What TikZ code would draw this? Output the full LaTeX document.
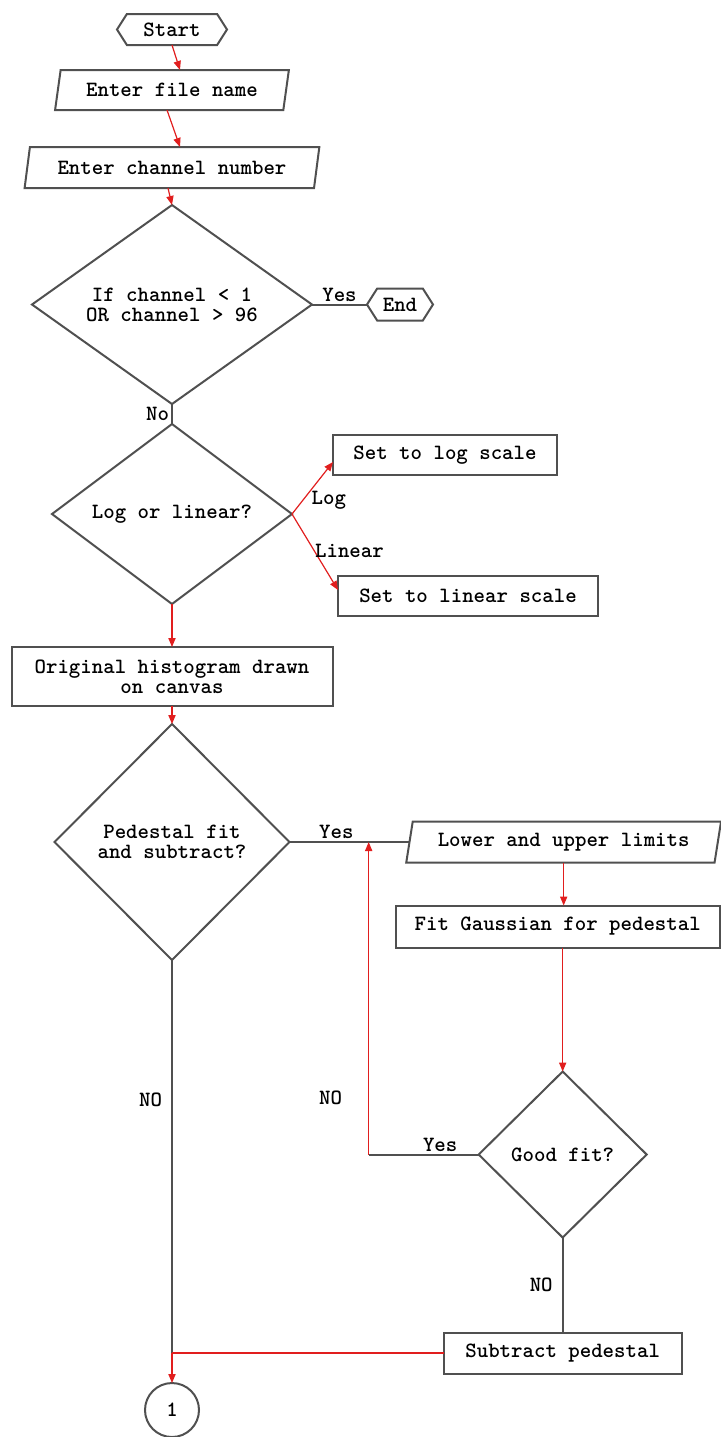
\documentclass[tikz,border=0pt]{standalone}
\usepackage{fontspec}
\usepackage{tikz}
\usepackage{xcolor}
\definecolor{LineGray}{RGB}{80,80,80}
\definecolor{FlowRed}{RGB}{225,30,30}
\usetikzlibrary{positioning,arrows.meta,shapes.geometric,shapes.symbols,calc}

\begin{document}
\begin{tikzpicture}[x=0.5pt, y=-0.5pt,
    base/.style={draw=LineGray, line width=1pt, inner sep=1pt, outer sep=0pt, align=center,
                 font=\ttfamily\bfseries\fontsize{10.9}{10}\selectfont},
    term/.style={base, signal, signal to=west and east, signal pointer angle=115},
    io/.style={base, trapezium, trapezium left angle=76, trapezium right angle=104,
               trapezium stretches=true},
    proc/.style={base, rectangle},
    test/.style={base, diamond, shape aspect=1.4, inner sep=0pt},
    conn/.style={base, circle, minimum size=27pt},
    lbl/.style={inner sep=1pt, font=\ttfamily\bfseries\fontsize{10.9}{10}\selectfont},
    link/.style={draw=LineGray, line width=1pt},
    flow/.style={draw=FlowRed, line width=0.6pt, -{Triangle[length=4.5pt, width=3.6pt]}}
]
    \useasboundingbox (0,0) rectangle (721,1437);

    % main column
    \node[term, minimum width=55pt, minimum height=15.5pt] (start) at (172,29.5) {Start};
    \node[io, below=12.5pt of start, minimum width=117.5pt, minimum height=20pt] (fname) {Enter file name};
    \node[io, below=18.5pt of fname, minimum width=147.5pt, minimum height=20.5pt] (chan) {Enter channel number};
    \node[test, below=8.5pt of chan, minimum width=140pt, minimum height=99.5pt] (check) {If channel < 1\\OR channel > 96};
    \node[term, right=27.5pt of check, minimum width=33pt, minimum height=16pt] (endn) {End};
    \node[test, below=10pt of check, minimum width=120pt, minimum height=90pt] (scale) {Log or linear?};
    \node[proc, minimum width=112pt, minimum height=20pt] (logbox) at (445,455) {Set to log scale};
    \node[proc, minimum width=130pt, minimum height=20pt] (linbox) at (468,596) {Set to linear scale};
    \node[proc, below=21.5pt of scale, minimum width=160.5pt, minimum height=29.5pt] (orig) {Original histogram drawn\\on canvas};
    \node[test, below=9pt of orig, minimum width=117.5pt, minimum height=118pt] (ped) {Pedestal fit\\and subtract?};

    % pedestal branch
    \node[io, right=60pt of ped, minimum width=157.5pt, minimum height=20.5pt] (limits) {Lower and upper limits};
    \node[proc, below=21.5pt of limits, xshift=-3pt, minimum width=162pt, minimum height=21pt] (fit) {Fit Gaussian for pedestal};
    \node[test, below=62pt of fit, xshift=2.5pt, minimum width=84pt, minimum height=83pt] (good) {Good fit?};
    \node[proc, below=47.5pt of good, minimum width=119pt, minimum height=20.5pt] (sub) {Subtract pedestal};
    \node[conn, below=211.5pt of ped] (off) {1};

    \coordinate (back) at ($(good.west)+(-110,0)$);
    \coordinate (join) at (ped.south |- sub.west);

    % connectors
    \draw[flow] (start.south) -- ([xshift=4pt]fname.north);
    \draw[flow] ([xshift=-2.5pt]fname.south) -- ([xshift=4pt]chan.north);
    \draw[flow] ([xshift=-2pt]chan.south) -- (check.north);
    \draw[link] (check.east) -- node[lbl, above] {Yes} (endn.west);
    \draw[link] (check.south) -- node[lbl, left] {No} (scale.north);
    \draw[flow] (scale.east) -- node[lbl, pos=0.27, right=3pt] {Log} ([yshift=-3.5pt]logbox.west);
    \draw[flow] (scale.east) -- node[lbl, pos=0.49, anchor=west, inner sep=0pt] {Linear} ([yshift=3pt]linbox.west);
    \draw[flow] (scale.south) -- (orig.north);
    \draw[flow] (orig.south) -- (ped.north);
    \draw[link] (ped.east) -- node[lbl, pos=0.39, above] {Yes} (limits.west);
    \draw[flow] (limits.south) -- (limits.south |- fit.north);
    \draw[flow] (good.north |- fit.south) -- (good.north);
    \draw[link] (good.west) -- node[lbl, pos=0.35, above] {Yes} (back);
    \draw[flow] (back) -- node[lbl, pos=0.18, left=12pt] {NO} (back |- ped.east);
    \draw[link] (good.south) -- node[lbl, left=3.5pt] {NO} (sub.north);
    \draw[link] (ped.south) -- node[lbl, pos=0.357, left=3.5pt] {NO} (join);
    \draw[FlowRed, line width=0.6pt] (sub.west) -- (join);
    \draw[flow] (join) -- (off.north);
\end{tikzpicture}
\end{document}
